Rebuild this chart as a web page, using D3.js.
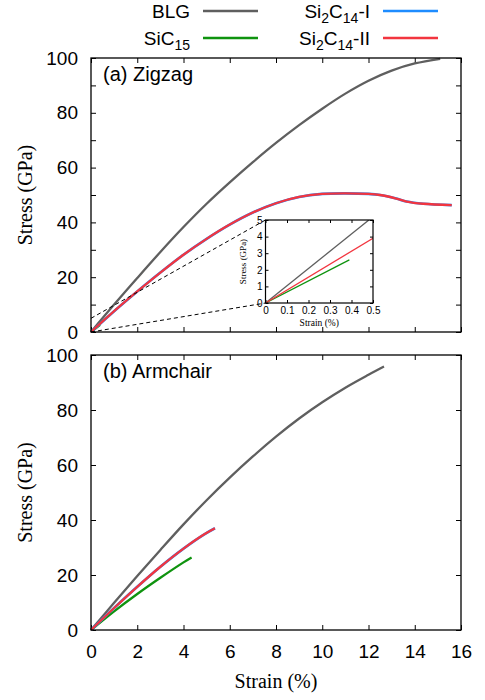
<!DOCTYPE html>
<html>
<head>
<meta charset="utf-8">
<script src="https://cdn.jsdelivr.net/npm/d3@7"></script>
<style>
  body { margin: 0; background: #fff; }
</style>
</head>
<body>
<div id="main"></div>
<script>
// zigzag (a)
const zzStrainBLG = [0, 1, 2, 3, 4, 5, 6, 7, 8, 9, 10, 11, 12, 13, 14, 15.1]
const zzStressBLG = [0, 10, 19.7, 29.2, 38.3, 46.8, 54.6, 62, 69, 75.5, 81.5, 87, 91.7, 95.4, 98, 99.7]
const zzStrainSi2 = [0, 1, 2, 3, 4, 5, 6, 7, 8, 9, 10, 11, 12, 12.5, 13.2, 13.65, 14.37, 15.6]
const zzStressSi2 = [0, 7.6, 14.8, 21.7, 28.2, 34, 39.2, 43.6, 47, 49.3, 50.4, 50.6, 50.4, 50, 48.7, 47.6, 46.8, 46.3]
const zzStrainSiC = [0, 0.39]
const zzStressSiC = [0, 2.6]
// armchair (b)
const acStrainBLG = [0, 1, 2, 3, 4, 5, 6, 7, 8, 9, 10, 11, 12, 12.67]
const acStressBLG = [0, 9.9, 19.6, 29.1, 38.4, 47.2, 55.4, 63.1, 70.3, 76.9, 82.8, 88.1, 92.8, 95.8]
const acStrainSi2 = [0, 1, 2, 3, 4, 4.9, 5.36]
const acStressSi2 = [0, 8, 15.7, 23, 29.6, 34.8, 37]
const acStrainSiC = [0, 1, 2, 3, 4, 4.35]
const acStressSiC = [0, 6.8, 13.1, 19, 24.6, 26.4]
// inset (small strain, zigzag)
const inStrainBLG = [0, 0.5]
const inStressBLG = [0, 5.2]
const inStrainSi2 = [0, 0.5]
const inStressSi2 = [0, 3.9]
const inStrainSiC = [0, 0.39]
const inStressSiC = [0, 2.6]

const xTicks = [0, 2, 4, 6, 8, 10, 12, 14, 16]

const colors = { blg: "#5f5f5f", sic: "#0f930f", si2a: "#1e8cff", si2b: "#f2353f" }
const SANS = "Liberation Sans, Arial, Helvetica, sans-serif"
const SERIF = "Liberation Serif, Times New Roman, serif"
const zip = (a, b) => a.map((v, i) => [v, b[i]])

const svg = d3.select("#main").append("svg").attr("width", 485).attr("height", 700)
  .style("font-family", SANS)

const left = 91, right = 461
const x = d3.scaleLinear().domain([0, 16]).range([left, right])

function drawPanel(top, bottom, yStep, labelStep, title, sets, showX) {
  const y = d3.scaleLinear().domain([0, 100]).range([bottom, top])
  const g = svg.append("g")
  const yVals = d3.range(0, 101, yStep)
  const fmt = d => (d % labelStep === 0 ? d : "")

  g.append("g").attr("transform", `translate(${left},0)`)
    .call(d3.axisLeft(y).tickValues(yVals).tickFormat(fmt).tickSizeInner(-5).tickSizeOuter(0).tickPadding(13))
  g.append("g").attr("transform", `translate(${right},0)`)
    .call(d3.axisRight(y).tickValues(yVals).tickFormat("").tickSizeInner(-5).tickSizeOuter(0))
  g.append("g").attr("transform", `translate(0,${top})`)
    .call(d3.axisTop(x).tickValues(xTicks).tickFormat("").tickSizeInner(-5).tickSizeOuter(0))
  g.append("g").attr("transform", `translate(0,${bottom})`)
    .call(d3.axisBottom(x).tickValues(xTicks).tickFormat(showX ? d => d : "").tickSizeInner(-5).tickSizeOuter(0).tickPadding(14.5))
  g.selectAll(".domain").remove()
  g.selectAll(".tick line").attr("stroke", "#000").attr("stroke-width", 1)
  g.selectAll(".tick text").attr("font-size", 19).attr("fill", "#000").attr("font-family", SANS)

  const line = d3.line().x(d => x(d[0])).y(d => y(d[1])).curve(d3.curveCatmullRom.alpha(0.5))
  sets.forEach(s => {
    g.append("path").datum(s.data).attr("d", line)
      .attr("fill", "none").attr("stroke", s.color).attr("stroke-width", s.w)
      .attr("stroke-linejoin", "round")
  })

  g.append("rect").attr("x", left).attr("y", top).attr("width", right - left).attr("height", bottom - top)
    .attr("fill", "none").attr("stroke", "#000").attr("stroke-width", 1.3)

  g.append("text").attr("x", 103).attr("y", top + 23).attr("font-size", 20).text(title)

  g.append("text").attr("transform", `translate(32,${(top + bottom) / 2}) rotate(-90)`)
    .attr("text-anchor", "middle").attr("font-family", SERIF)
    .attr("font-size", 20).text("Stress (GPa)")
  return y
}

const yA = drawPanel(58, 332, 10, 20, "(a) Zigzag", [
  { data: zip(zzStrainBLG, zzStressBLG), color: colors.blg, w: 2.3 },
  { data: zip(zzStrainSiC, zzStressSiC), color: colors.sic, w: 2.3 },
  { data: zip(zzStrainSi2, zzStressSi2), color: colors.si2a, w: 2.6 },
  { data: zip(zzStrainSi2, zzStressSi2), color: colors.si2b, w: 2.3 }
], false)

drawPanel(355, 630, 20, 20, "(b) Armchair", [
  { data: zip(acStrainBLG, acStressBLG), color: colors.blg, w: 2.3 },
  { data: zip(acStrainSiC, acStressSiC), color: colors.sic, w: 2.3 },
  { data: zip(acStrainSi2, acStressSi2), color: colors.si2a, w: 2.6 },
  { data: zip(acStrainSi2, acStressSi2), color: colors.si2b, w: 2.3 }
], true)

svg.append("text").attr("x", (left + right) / 2).attr("y", 688).attr("text-anchor", "middle")
  .attr("font-family", SERIF).attr("font-size", 20).text("Strain (%)")

// inset
const ix = d3.scaleLinear().domain([0, 0.5]).range([265.5, 373])
const iy = d3.scaleLinear().domain([0, 5]).range([303, 220])

// zoom guide lines
svg.append("line").attr("x1", x(0)).attr("y1", yA(5)).attr("x2", ix(0)).attr("y2", iy(5))
  .attr("stroke", "#000").attr("stroke-width", 1).attr("stroke-dasharray", "4,3")
svg.append("line").attr("x1", x(0)).attr("y1", yA(0)).attr("x2", ix(0)).attr("y2", iy(0))
  .attr("stroke", "#000").attr("stroke-width", 1).attr("stroke-dasharray", "4,3")

const ig = svg.append("g")
ig.append("rect").attr("x", ix(0)).attr("y", iy(5)).attr("width", ix(0.5) - ix(0)).attr("height", iy(0) - iy(5))
  .attr("fill", "#fff")
ig.append("clipPath").attr("id", "inclip").append("rect")
  .attr("x", ix(0)).attr("y", iy(5)).attr("width", ix(0.5) - ix(0)).attr("height", iy(0) - iy(5))

const iTicksX = [0, 0.1, 0.2, 0.3, 0.4, 0.5]
const iTicksY = [0, 1, 2, 3, 4, 5]
ig.append("g").attr("transform", `translate(${ix(0)},0)`)
  .call(d3.axisLeft(iy).tickValues(iTicksY).tickFormat(d => d).tickSizeInner(-3).tickSizeOuter(0).tickPadding(3))
ig.append("g").attr("transform", `translate(${ix(0.5)},0)`)
  .call(d3.axisRight(iy).tickValues(iTicksY).tickFormat("").tickSizeInner(-3).tickSizeOuter(0))
ig.append("g").attr("transform", `translate(0,${iy(0)})`)
  .call(d3.axisBottom(ix).tickValues(iTicksX).tickFormat(d => d).tickSizeInner(-3).tickSizeOuter(0).tickPadding(4))
ig.append("g").attr("transform", `translate(0,${iy(5)})`)
  .call(d3.axisTop(ix).tickValues(iTicksX).tickFormat("").tickSizeInner(-3).tickSizeOuter(0))
ig.selectAll(".domain").remove()
ig.selectAll(".tick text").attr("font-size", 10).attr("fill", "#000").attr("font-family", SANS)

const iline = d3.line().x(d => ix(d[0])).y(d => iy(d[1]))
const inSets = [
  { data: zip(inStrainBLG, inStressBLG), color: colors.blg },
  { data: zip(inStrainSiC, inStressSiC), color: colors.sic },
  { data: zip(inStrainSi2, inStressSi2), color: colors.si2b }
]
inSets.forEach(s => {
  ig.append("path").datum(s.data).attr("d", iline).attr("clip-path", "url(#inclip)")
    .attr("fill", "none").attr("stroke", s.color).attr("stroke-width", 1.3)
})
ig.append("rect").attr("x", ix(0)).attr("y", iy(5)).attr("width", ix(0.5) - ix(0)).attr("height", iy(0) - iy(5))
  .attr("fill", "none").attr("stroke", "#000").attr("stroke-width", 1.2)
ig.append("text").attr("x", (ix(0) + ix(0.5)) / 2).attr("y", 326).attr("text-anchor", "middle")
  .attr("font-family", SERIF).attr("font-size", 9.5).text("Strain (%)")
ig.append("text").attr("transform", `translate(246,${(iy(0) + iy(5)) / 2}) rotate(-90)`).attr("text-anchor", "middle")
  .attr("font-family", SERIF).attr("font-size", 9).text("Stress (GPa)")

// legend
const legend = [
  { parts: [["BLG", 0]], color: colors.blg, tx: 190, ty: 18, lx: 203 },
  { parts: [["SiC", 0], ["15", 1]], color: colors.sic, tx: 190, ty: 45, lx: 203 },
  { parts: [["Si", 0], ["2", 1], ["C", 0], ["14", 1], ["-I", 0]], color: colors.si2a, tx: 370, ty: 18, lx: 383 },
  { parts: [["Si", 0], ["2", 1], ["C", 0], ["14", 1], ["-II", 0]], color: colors.si2b, tx: 370, ty: 45, lx: 383 }
]
const lg = svg.append("g")
legend.forEach(l => {
  const t = lg.append("text").attr("x", l.tx).attr("y", l.ty).attr("text-anchor", "end").attr("font-size", 19)
  let shifted = false
  l.parts.forEach(p => {
    const ts = t.append("tspan").text(p[0])
    if (p[1] && !shifted) { ts.attr("dy", 5).attr("font-size", 14); shifted = true }
    else if (p[1]) ts.attr("font-size", 14)
    else if (shifted) { ts.attr("dy", -5); shifted = false }
  })
  lg.append("line").attr("x1", l.lx).attr("x2", l.lx + 55).attr("y1", l.ty - 7).attr("y2", l.ty - 7)
    .attr("stroke", l.color).attr("stroke-width", 2.6)
})
</script>
</body>
</html>
